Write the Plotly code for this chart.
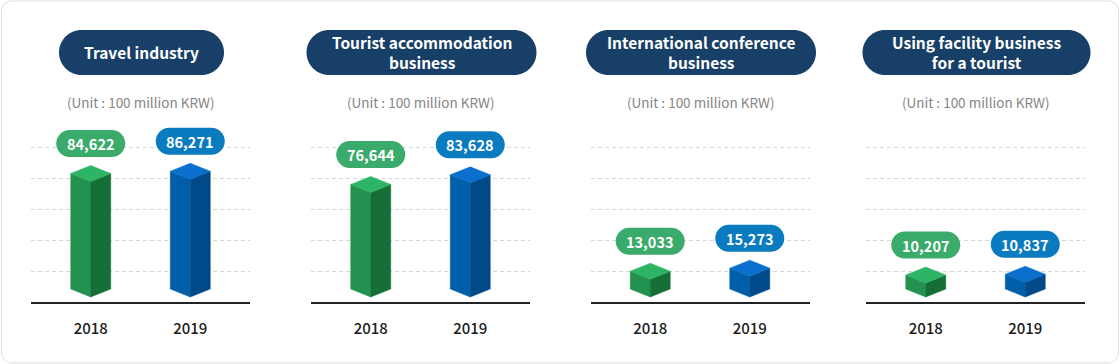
import plotly.graph_objects as go

# ---------------- data ----------------
panel_titles = [
    "Travel industry",
    "Tourist accommodation<br>business",
    "International conference<br>business",
    "Using facility business<br>for a tourist",
]
years = ["2018", "2019"]
values_2018 = [84622, 76644, 13033, 10207]
values_2019 = [86271, 83628, 15273, 10837]
unit_text = "(Unit : 100 million KRW)"

# ---------------- styling / layout constants ----------------
W, H = 1120, 364
FONT = "Noto Sans CJK KR"
NAVY = "#173f67"
PILL_COLORS = ["#3aab6a", "#0a7bbf"]
FACE_LEFT = ["#23914f", "#005fa8"]
FACE_RIGHT = ["#156e36", "#004a89"]
FACE_TOP = ["#2db465", "#0a6fcd"]

panel_centers = [140.5, 420.5, 700.0, 975.5]      # px
title_pill_widths = [165, 230, 230, 228]
PLOT_HALF = 109.5                                   # px half-width of each plot
X_RANGE = [-0.6, 1.6]
PX_PER_X = (2 * PLOT_HALF) / (X_RANGE[1] - X_RANGE[0])
U = 732.6                                            # y units per pixel
Y_BOTTOM_PX, Y_TOP_PX = 302, 110
ZERO_PX = 297
Y_RANGE = [-(Y_BOTTOM_PX - ZERO_PX) * U, (ZERO_PX - Y_TOP_PX) * U]
y_domain = [1 - Y_BOTTOM_PX / H, 1 - Y_TOP_PX / H]
GRID_PX = [271, 240, 209, 178, 147]
grid_vals = [(ZERO_PX - g) * U for g in GRID_PX]

BAR_HALF = 20 / PX_PER_X     # x units
ISO = 8 * U                  # y units

K = 0.5523


def pill_path(cx, cy, hw, hh, rx, ry):
    l, r, t, b = cx - hw, cx + hw, cy + hh, cy - hh
    return (
        f"M {l+rx},{t} L {r-rx},{t} "
        f"C {r-rx+K*rx},{t} {r},{t-ry+K*ry} {r},{t-ry} "
        f"L {r},{b+ry} "
        f"C {r},{b+ry-K*ry} {r-rx+K*rx},{b} {r-rx},{b} "
        f"L {l+rx},{b} "
        f"C {l+rx-K*rx},{b} {l},{b+ry-K*ry} {l},{b+ry} "
        f"L {l},{t-ry} "
        f"C {l},{t-ry+K*ry} {l+rx-K*rx},{t} {l+rx},{t} Z"
    )


def px_x(x):
    return x / W


def px_y(y):
    return 1 - y / H


fig = go.Figure()
shapes = []
annotations = []

# outer rounded frame
shapes.append(dict(
    type="path", xref="paper", yref="paper",
    path=pill_path(px_x(W / 2), px_y(H / 2), px_x(558.5), 181 / H, px_x(10), 10 / H),
    line=dict(color="#dcdcdc", width=1), fillcolor="rgba(0,0,0,0)", layer="below",
))

for p in range(4):
    sfx = "" if p == 0 else str(p + 1)
    xa, ya = "x" + sfx, "y" + sfx
    c = panel_centers[p]
    fig.update_layout({
        f"xaxis{sfx}": dict(
            domain=[(c - PLOT_HALF) / W, (c + PLOT_HALF) / W], range=X_RANGE,
            anchor=ya, showgrid=False, zeroline=False, showline=True,
            linecolor="#222222", linewidth=1.5, tickmode="array",
            tickvals=[0, 1], ticktext=years, ticks="",
            tickfont=dict(family=FONT, size=15, color="#1c1c1c", weight=500),
            ticklabelstandoff=12, fixedrange=True,
        ),
        f"yaxis{sfx}": dict(
            domain=y_domain, range=Y_RANGE, anchor=xa, showgrid=True,
            gridcolor="#d6d6d6", griddash="4px,3px", gridwidth=1,
            tickmode="array", tickvals=grid_vals, zeroline=False, showline=False,
            showticklabels=False, ticks="", fixedrange=True,
        ),
    })

    vals = [values_2018[p], values_2019[p]]
    for i, v in enumerate(vals):
        w = BAR_HALF
        faces = [
            ([i - w, i, i, i - w, i - w], [v + ISO, v, 0, ISO, v + ISO], FACE_LEFT[i]),
            ([i, i + w, i + w, i, i], [v, v + ISO, ISO, 0, v], FACE_RIGHT[i]),
            ([i - w, i, i + w, i, i - w], [v + ISO, v + 2 * ISO, v + ISO, v, v + ISO], FACE_TOP[i]),
        ]
        for fx, fy, col in faces:
            fig.add_trace(go.Scatter(
                x=fx, y=fy, xaxis=xa, yaxis=ya, mode="lines", fill="toself",
                fillcolor=col, line=dict(width=0.5, color=col),
                hoverinfo="skip", showlegend=False,
            ))
        # value pill
        cy = v + 38 * U
        rxx = 13.5 / PX_PER_X
        shapes.append(dict(
            type="path", xref=xa, yref=ya,
            path=pill_path(i, cy, 34.5 / PX_PER_X, 13.5 * U, rxx, 13.5 * U),
            fillcolor=PILL_COLORS[i], line=dict(width=0), layer="above",
        ))
        annotations.append(dict(
            x=i, y=cy, xref=xa, yref=ya, text=f"{v:,}", showarrow=False,
            font=dict(family=FONT, size=14.5, color="white", weight="bold"),
            xanchor="center", yanchor="middle",
        ))

    # title pill
    tc = c + 1
    tw = title_pill_widths[p]
    shapes.append(dict(
        type="path", xref="paper", yref="paper",
        path=pill_path(px_x(tc), px_y(52.5), px_x(tw / 2), 22.5 / H, px_x(22.5), 22.5 / H),
        fillcolor=NAVY, line=dict(width=0), layer="above",
    ))
    annotations.append(dict(
        x=px_x(tc), y=px_y(52.5), xref="paper", yref="paper", text=f"<b>{panel_titles[p]}</b>",
        showarrow=False, font=dict(family=FONT, size=15.5, color="white"),
        xanchor="center", yanchor="middle",
    ))
    annotations.append(dict(
        x=px_x(c), y=px_y(101.5), xref="paper", yref="paper", text=unit_text,
        showarrow=False, font=dict(family=FONT, size=13.5, color="#858585"),
        xanchor="center", yanchor="middle",
    ))

fig.update_layout(
    width=W, height=H, margin=dict(l=0, r=0, t=0, b=0),
    paper_bgcolor="white", plot_bgcolor="white",
    shapes=shapes, annotations=annotations, showlegend=False,
    font=dict(family=FONT),
)

fig.write_html(
    "out.html", config={"displayModeBar": False},
    post_script="document.body.style.margin='0';document.body.style.padding='0';",
)
